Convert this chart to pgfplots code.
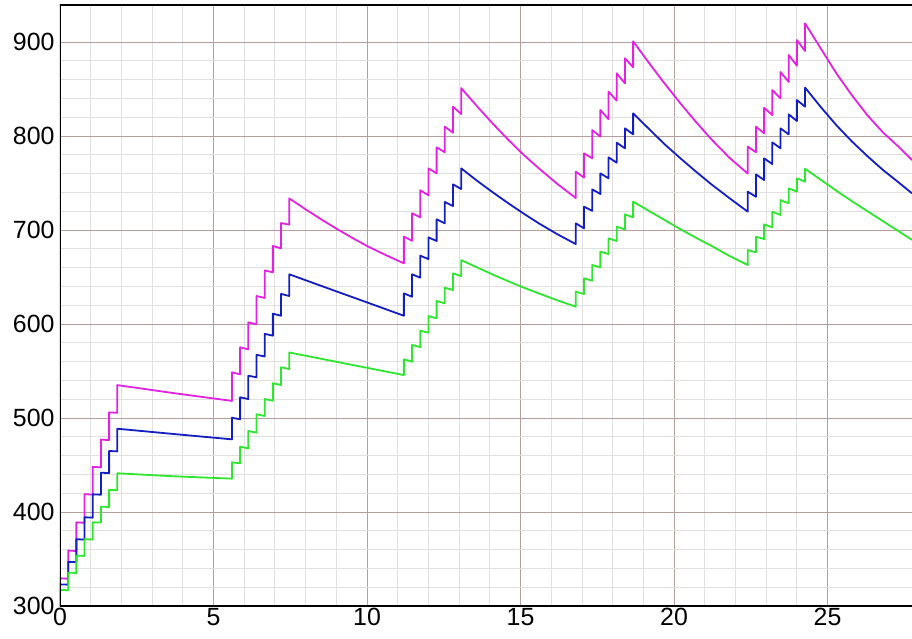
\documentclass[border=0pt]{standalone}
\usepackage{pgfplots}
\pgfplotsset{compat=1.18}
\usepackage{fontspec}
\setmainfont{Liberation Sans}
\definecolor{cmag}{RGB}{225,35,225}
\definecolor{cblue}{RGB}{20,30,190}
\definecolor{cgreen}{RGB}{45,230,45}
\definecolor{gmaj}{RGB}{182,158,158}
\definecolor{gmin}{RGB}{226,223,223}
\begin{document}
\begin{tikzpicture}
\begin{axis}[
  scale only axis, width=852bp, height=601bp,
  xmin=0, xmax=27.75, ymin=300, ymax=939.4,
  xtick={0,5,...,25}, ytick={300,400,...,900},
  minor x tick num=4, minor y tick num=4,
  grid=both,
  major grid style={gmaj, line width=0.9bp},
  minor grid style={gmin, line width=0.9bp},
  major tick length=0pt, minor tick length=0pt,
  axis line style={draw=none},
  tick label style={font=\fontsize{25}{26}\selectfont},
  yticklabel style={xshift=-2bp},
  xticklabel style={yshift=1bp},
  /pgf/number format/assume math mode=true,
  every axis plot/.append style={line width=1.8bp, line join=round, mark=none},
]
% magenta
\addplot[cmag] coordinates {
(0,300) (0,329.5) (0.267,329) (0.267,359) (0.533,358.5) (0.533,389) (0.8,388.5) (0.8,419) (1.067,418.5) (1.067,448) (1.333,447.5) (1.333,477) (1.6,476.5) (1.6,506) (1.867,505.5) (1.867,535)
(3.7,526.5) (5.6,518.2)
(5.6,548.6) (5.867,546.5) (5.867,575.2) (6.133,573) (6.133,601.8) (6.4,599.7) (6.4,629.8) (6.667,627.7) (6.667,657) (6.933,655) (6.933,683) (7.2,680.5) (7.2,707.4) (7.467,705.7) (7.467,733.7)
(8.0,722) (8.5,711.5) (9.0,701.5) (9.5,692) (10.0,683) (10.6,673.5) (11.2,664.6)
(11.2,693) (11.467,688.6) (11.467,717.8) (11.733,713.5) (11.733,742.3) (12,737) (12,765.6) (12.267,760.3) (12.267,788) (12.533,782.7) (12.533,810) (12.8,803.5) (12.8,831.2) (13.067,823.4) (13.067,851)
(13.6,831) (14.1,813) (14.6,796) (15.1,780) (15.6,765.5) (16.2,749) (16.8,734)
(16.8,762.1) (17.067,755.7) (17.067,781.6) (17.333,776.3) (17.333,806.4) (17.6,799.3) (17.6,827.7) (17.867,817.8) (17.867,847.2) (18.133,837.6) (18.133,866.7) (18.4,856) (18.4,882.7) (18.667,873.1) (18.667,900.8)
(19.2,877) (19.7,855.5) (20.2,835) (20.7,815.5) (21.2,797) (21.8,777) (22.4,760)
(22.4,788.7) (22.667,782.7) (22.667,810) (22.933,802.9) (22.933,830.1) (23.2,822.3) (23.2,848.9) (23.467,840.1) (23.467,868.1) (23.733,857.5) (23.733,886.2) (24,874.8) (24,902.1) (24.267,890.4) (24.267,919.9)
(24.8,892) (25.3,866) (25.8,843) (26.3,822) (26.8,804) (27.3,789) (27.75,774.5)
};
% blue
\addplot[cblue] coordinates {
(0,300) (0,323) (0.267,322.7) (0.267,347) (0.533,346.7) (0.533,371) (0.8,370.7) (0.8,394.4) (1.067,394) (1.067,418.8) (1.333,418.4) (1.333,441.8) (1.6,441.4) (1.6,464.9) (1.867,464.5) (1.867,488.6)
(3.7,483) (5.6,477.3)
(5.6,500.3) (5.867,498.6) (5.867,522) (6.133,520.2) (6.133,545) (6.4,543.3) (6.4,567.2) (6.667,565.5) (6.667,589.5) (6.933,587.6) (6.933,611) (7.2,608.8) (7.2,632) (7.467,629.8) (7.467,652.9)
(8.7,638.3) (10,623) (11.2,608.8)
(11.2,632.6) (11.467,629) (11.467,652.9) (11.733,649.3) (11.733,672.7) (12,669.1) (12,692.2) (12.267,688.3) (12.267,711.4) (12.533,707.1) (12.533,729.8) (12.8,725.5) (12.8,748.6) (13.067,743.6) (13.067,765.6)
(13.6,752) (14.1,740) (14.6,728.5) (15.1,717.5) (15.6,707) (16.2,695.5) (16.8,685)
(16.8,707.1) (17.067,701.8) (17.067,724.8) (17.333,720.5) (17.333,743.3) (17.6,738.3) (17.6,760.3) (17.867,755) (17.867,777.3) (18.133,771.6) (18.133,792.9) (18.4,786.9) (18.4,808.2) (18.667,801.8) (18.667,824.1)
(19.2,807) (19.7,791) (20.2,776.5) (20.7,762.5) (21.2,749) (21.8,734) (22.4,719.5)
(22.4,740.8) (22.667,735.4) (22.667,759.2) (22.933,753.2) (22.933,776.3) (23.2,770.2) (23.2,793.3) (23.467,786.9) (23.467,808.2) (23.733,801.8) (23.733,823.1) (24,816) (24,838.3) (24.267,831.2) (24.267,851.5)
(24.8,830) (25.3,811) (25.8,794) (26.3,778.5) (26.8,764) (27.3,751) (27.75,739)
};
% green
\addplot[cgreen] coordinates {
(0,300) (0,317) (0.267,316.8) (0.267,335.4) (0.533,335.2) (0.533,353.5) (0.8,353.3) (0.8,371) (1.067,370.8) (1.067,389) (1.333,388.8) (1.333,405.6) (1.6,405.4) (1.6,423.4) (1.867,423.2) (1.867,441.2)
(3.7,438) (5.6,435.5)
(5.6,452.9) (5.867,451.8) (5.867,469.5) (6.133,467.7) (6.133,486.2) (6.4,484.4) (6.4,504) (6.667,502.1) (6.667,520.2) (6.933,518.4) (6.933,537) (7.2,535.1) (7.2,554) (7.467,552.1) (7.467,569.7)
(10,553.4) (11.2,545.7)
(11.2,562.4) (11.467,559.9) (11.467,577.7) (11.733,575.5) (11.733,592.9) (12,590.8) (12,608.5) (12.267,606) (12.267,624.5) (12.533,622) (12.533,638.6) (12.8,636.2) (12.8,653.9) (13.067,651) (13.067,668)
(13.6,660) (14.1,652.6) (14.6,645.5) (15.1,638.8) (15.6,632.5) (16.2,625.2) (16.8,618.4)
(16.8,634.4) (17.067,631.9) (17.067,648.6) (17.333,646.1) (17.333,662.8) (17.6,660.3) (17.6,677) (17.867,674.5) (17.867,691.1) (18.133,688.3) (18.133,703.5) (18.4,700.7) (18.4,716.7) (18.667,713.5) (18.667,730.2)
(19.2,720) (19.7,710.5) (20.2,701) (20.7,692) (21.2,683.5) (21.8,672.5) (22.4,662.8)
(22.4,678.7) (22.667,676.3) (22.667,692.9) (22.933,690.4) (22.933,706) (23.2,702.8) (23.2,719.5) (23.467,716) (23.467,731.9) (23.733,728.4) (23.733,744.3) (24,740.8) (24,755) (24.267,751.4) (24.267,765.2)
(24.8,753) (25.3,741.5) (25.8,730.5) (26.3,720) (26.8,709.5) (27.3,699) (27.75,689.5)
};
\draw[black, line width=1.2bp] (rel axis cs:1,0) -- (rel axis cs:0,0) -- (rel axis cs:0,1) -- (rel axis cs:1,1);
\end{axis}
\pgfresetboundingbox
\useasboundingbox (-60bp,-33bp) rectangle (852bp,606bp);
\end{tikzpicture}
\end{document}
